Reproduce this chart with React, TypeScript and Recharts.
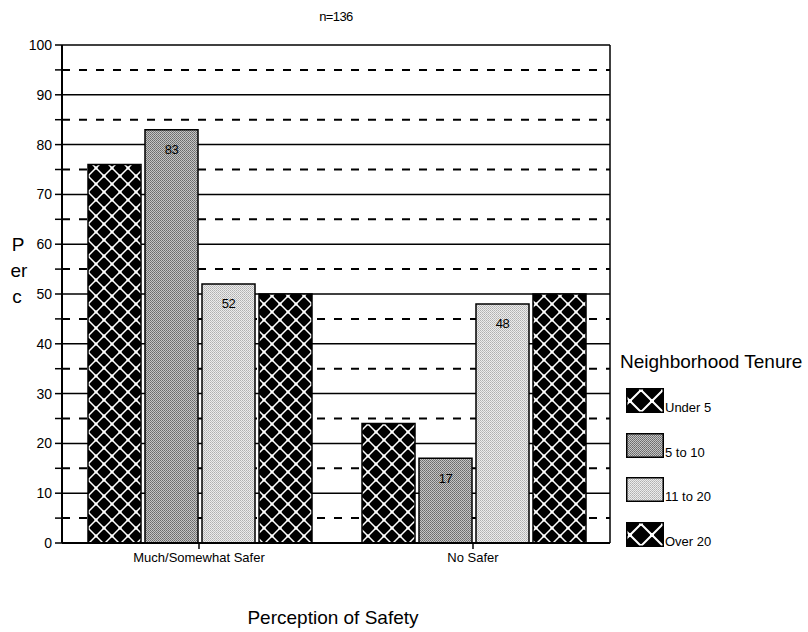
import {
  BarChart,
  Bar,
  XAxis,
  YAxis,
  CartesianGrid,
  LabelList,
  Legend,
  Label,
} from 'recharts';

const categories = ['Much/Somewhat Safer', 'No Safer'];
const under5 = [76, 24];
const fiveTo10 = [83, 17];
const elevenTo20 = [52, 48];
const over20 = [50, 50];
const seriesNames = ['Under 5', '5 to 10', '11 to 20', 'Over 20'];
// tick marks every 5, labels only on the tens
const yTicks = [0, 5, 10, 15, 20, 25, 30, 35, 40, 45, 50, 55, 60, 65, 70, 75, 80, 85, 90, 95, 100];
const majorLines = [10, 20, 30, 40, 50, 60, 70, 80, 90, 100];
const minorLines = [5, 15, 25, 35, 45, 55, 65, 75, 85, 95];

const FONT = '"Liberation Sans", Arial, sans-serif';
const fills = ['url(#diamond)', 'url(#stipDark)', 'url(#stipLight)', 'url(#diamond)'];
const swatchFills = ['url(#diamondBig)', 'url(#stipDark)', 'url(#stipLight)', 'url(#diamondBig)'];

const data = categories.map((name, i) => ({
  name,
  under5: under5[i],
  fiveTo10: fiveTo10[i],
  elevenTo20: elevenTo20[i],
  over20: over20[i],
}));

function TenureLegend() {
  return (
    <div style={{ fontFamily: FONT, color: '#000' }}>
      <div style={{ fontSize: 19, lineHeight: '24px' }}>Neighborhood Tenure</div>
      {seriesNames.map((n, i) => (
        <div key={n} style={{ display: 'flex', alignItems: 'flex-end', height: 25, marginTop: i === 0 ? 14 : 19.5, marginLeft: 6 }}>
          <svg width={38} height={25} style={{ display: 'block' }}>
            <rect x={0.75} y={0.75} width={36.5} height={23.5} fill={swatchFills[i]} stroke="#000" strokeWidth={1.5} />
          </svg>
          <span style={{ fontSize: 13, lineHeight: '13px', marginLeft: 1, marginBottom: -1 }}>{n}</span>
        </div>
      ))}
    </div>
  );
}

export default function App() {
  return (
    <div style={{ position: 'absolute', left: 0, top: 0, width: 808, height: 632, background: '#fff', fontFamily: FONT, overflow: 'hidden' }}>
      <div style={{ position: 'absolute', left: 0, width: 672, top: 9, textAlign: 'center', fontSize: 13, letterSpacing: -0.6 }}>n=136</div>
      <BarChart
        width={808}
        height={632}
        data={data}
        margin={{ top: 45, right: 197, bottom: 59, left: 0 }}
        barGap={4}
        barCategoryGap={26}
        style={{ fontFamily: FONT }}
      >
        <defs>
          <pattern id="diamond" width="16" height="16" patternUnits="userSpaceOnUse">
            <rect width="16" height="16" fill="#000" />
            <path d="M0 8 L8 0 L16 8 L8 16 Z" fill="none" stroke="#fff" strokeWidth="1.5" />
            <rect x="6.5" y="-1.5" width="3" height="3" fill="#fff" />
            <rect x="6.5" y="14.5" width="3" height="3" fill="#fff" />
            <rect x="-1.5" y="6.5" width="3" height="3" fill="#fff" />
            <rect x="14.5" y="6.5" width="3" height="3" fill="#fff" />
          </pattern>
          <pattern id="diamondBig" width="22" height="22" patternUnits="userSpaceOnUse" x="4" y="2">
            <rect width="22" height="22" fill="#000" />
            <path d="M0 11 L11 0 L22 11 L11 22 Z" fill="none" stroke="#fff" strokeWidth="2" />
            <rect x="9" y="-2" width="4" height="4" fill="#fff" />
            <rect x="9" y="20" width="4" height="4" fill="#fff" />
            <rect x="-2" y="9" width="4" height="4" fill="#fff" />
            <rect x="20" y="9" width="4" height="4" fill="#fff" />
          </pattern>
          <pattern id="stipDark" width="2" height="2" patternUnits="userSpaceOnUse">
            <rect width="2" height="2" fill="#c4c4c4" />
            <rect width="1" height="1" fill="#6a6a6a" />
            <rect x="1" y="1" width="1" height="1" fill="#7a7a7a" />
          </pattern>
          <pattern id="stipLight" width="2" height="2" patternUnits="userSpaceOnUse">
            <rect width="2" height="2" fill="#ececec" />
            <rect width="1" height="1" fill="#b0b0b0" />
            <rect x="1" y="1" width="1" height="1" fill="#c0c0c0" />
          </pattern>
        </defs>
        <CartesianGrid vertical={false} horizontalValues={majorLines} stroke="#000" strokeWidth={1.5} />
        <CartesianGrid vertical={false} horizontalValues={minorLines} stroke="#000" strokeWidth={2} strokeDasharray="8 9" />
        <XAxis
          dataKey="name"
          height={30}
          tick={{ fontSize: 13, fill: '#000', fontFamily: FONT }}
          tickLine={{ stroke: '#000', strokeWidth: 1.5 }}
          axisLine={{ stroke: '#000', strokeWidth: 2 }}
          tickSize={6}
          tickMargin={4}
        >
          <Label
            content={({ viewBox }: any) => (
              <text x={viewBox.x + viewBox.width / 2 - 3} y={viewBox.y + 81} textAnchor="middle" fontSize={19} fontFamily={FONT} fill="#000">
                Perception of Safety
              </text>
            )}
          />
        </XAxis>
        <YAxis
          width={62}
          domain={[0, 100]}
          ticks={yTicks}
          interval={0}
          tickFormatter={(v: number) => (v % 10 === 0 ? String(v) : '')}
          tick={{ fontSize: 14, fill: '#000', fontFamily: FONT }}
          tickLine={{ stroke: '#000', strokeWidth: 1.5 }}
          axisLine={{ stroke: '#000', strokeWidth: 2 }}
          tickSize={7}
          tickMargin={3}
        >
          <Label
            content={() => (
              <text fontSize={19} fontFamily={FONT} fill="#000" textAnchor="middle">
                <tspan x={18} y={251}>P</tspan>
                <tspan x={19} y={277}>er</tspan>
                <tspan x={17} y={303}>c</tspan>
              </text>
            )}
          />
        </YAxis>
        <YAxis
          yAxisId="frame"
          orientation="right"
          width={1}
          domain={[0, 100]}
          tick={false}
          tickLine={false}
          axisLine={{ stroke: '#000', strokeWidth: 1.5 }}
        />
        <Legend
          layout="horizontal"
          align="center"
          verticalAlign="middle"
          content={() => <TenureLegend />}
          wrapperStyle={{ position: 'absolute', left: 620, top: 350, width: 188, height: 200 }}
        />
        <Bar dataKey="under5" name={seriesNames[0]} fill={fills[0]} stroke="#000" strokeWidth={1.5} isAnimationActive={false} />
        <Bar dataKey="fiveTo10" name={seriesNames[1]} fill={fills[1]} stroke="#000" strokeWidth={1.5} isAnimationActive={false}>
          <LabelList dataKey="fiveTo10" position="insideTop" offset={15} style={{ fontSize: 13, fill: '#000', fontFamily: FONT, letterSpacing: -0.5 }} />
        </Bar>
        <Bar dataKey="elevenTo20" name={seriesNames[2]} fill={fills[2]} stroke="#000" strokeWidth={1.5} isAnimationActive={false}>
          <LabelList dataKey="elevenTo20" position="insideTop" offset={15} style={{ fontSize: 13, fill: '#000', fontFamily: FONT, letterSpacing: -0.5 }} />
        </Bar>
        <Bar dataKey="over20" name={seriesNames[3]} fill={fills[3]} stroke="#000" strokeWidth={1.5} isAnimationActive={false} />
      </BarChart>
    </div>
  );
}
